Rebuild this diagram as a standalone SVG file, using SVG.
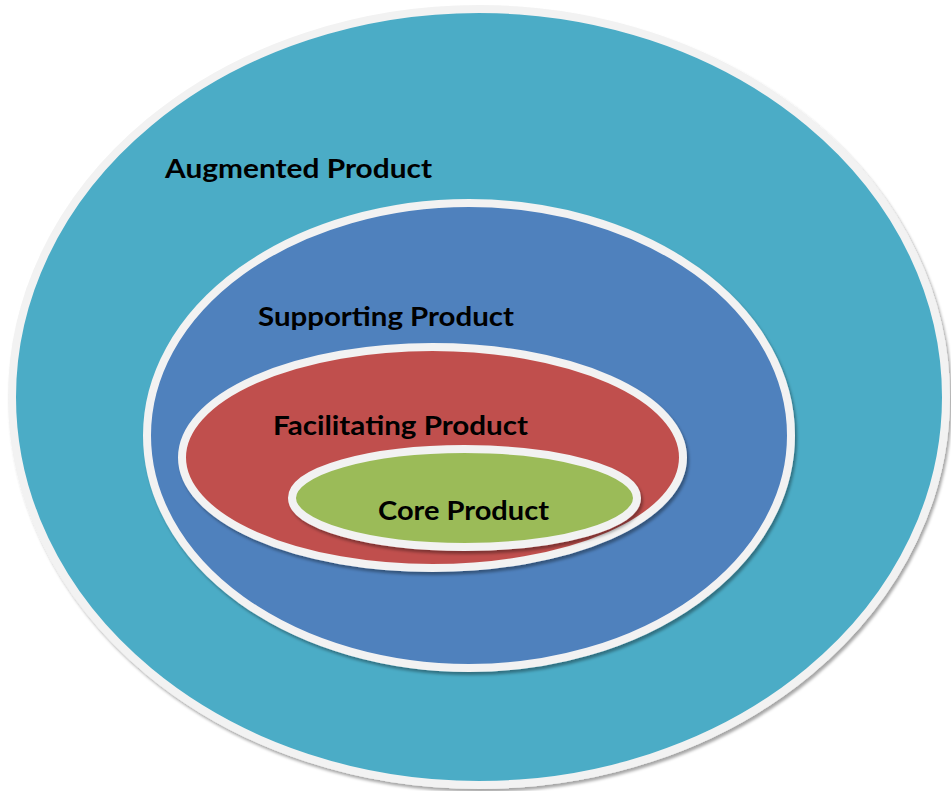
<svg xmlns="http://www.w3.org/2000/svg" width="951" height="791" viewBox="0 0 951 791">
<defs>
<filter id="sh" x="-10%" y="-10%" width="120%" height="120%">
<feDropShadow dx="2" dy="3" stdDeviation="1.5" flood-color="#000" flood-opacity="0.35"/>
</filter>
</defs>
<style>
.ring{stroke:#f2f2f2;stroke-width:8;filter:url(#sh)}
.lbl{font-family:Lato,"Liberation Sans",sans-serif;font-weight:bold;font-size:26px;fill:#000}
</style>
<rect width="951" height="791" fill="#fff"/>
<g id="augmented">
<ellipse class="ring" cx="479" cy="397" rx="467" ry="388" fill="#4bacc6"/>
<text class="lbl" x="165" y="178" textLength="267" lengthAdjust="spacingAndGlyphs">Augmented Product</text>
</g>
<g id="supporting">
<ellipse class="ring" cx="469" cy="435.5" rx="322" ry="232.5" fill="#4f81bd"/>
<text class="lbl" x="258" y="326" textLength="256" lengthAdjust="spacingAndGlyphs">Supporting Product</text>
</g>
<g id="facilitating">
<ellipse class="ring" cx="432.5" cy="457.5" rx="250.5" ry="110.5" fill="#c0504d"/>
<text class="lbl" x="273" y="435" textLength="255" lengthAdjust="spacingAndGlyphs">Facilitating Product</text>
</g>
<g id="core">
<ellipse class="ring" cx="464.5" cy="498" rx="172.5" ry="49" fill="#9bbb59"/>
<text class="lbl" x="378" y="520" textLength="171" lengthAdjust="spacingAndGlyphs">Core Product</text>
</g>
<g id="connectors"/>
</svg>
